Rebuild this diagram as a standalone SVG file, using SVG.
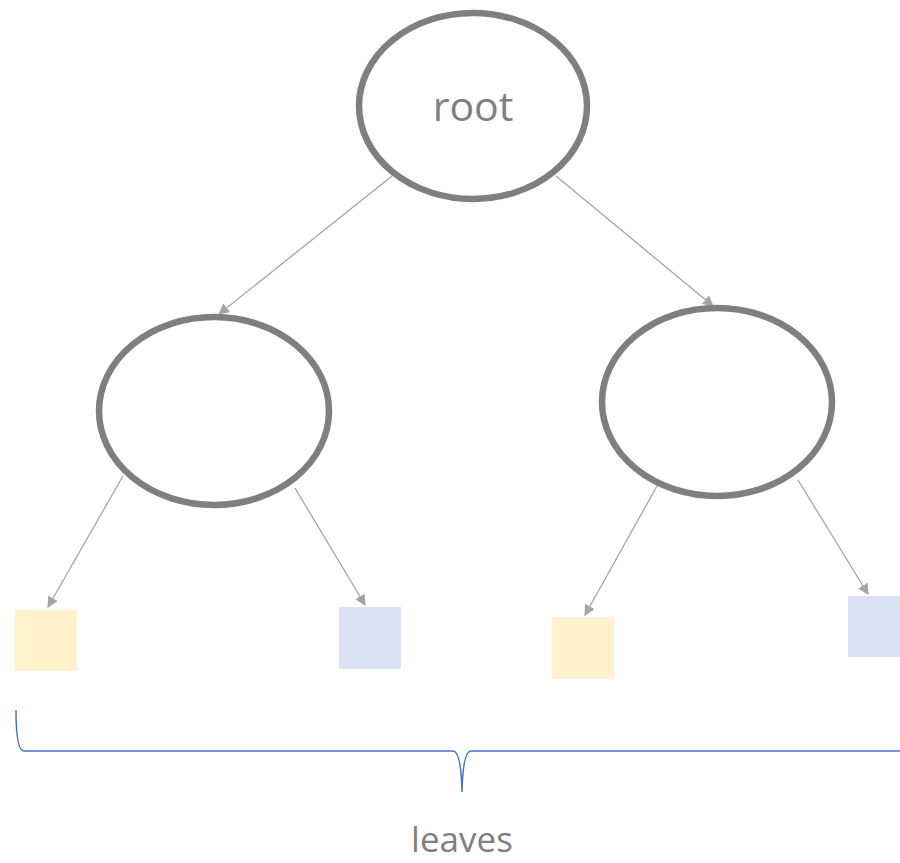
<svg xmlns="http://www.w3.org/2000/svg" width="900" height="863" viewBox="0 0 900 863">
  <style>
    .node { fill: #ffffff; stroke: #7f7f7f; stroke-width: 6.5; }
    .edge { stroke: #a5a5a5; stroke-width: 1.3; fill: none; marker-end: url(#arrow); }
    .leaf-a { fill: #fff2cc; }
    .leaf-b { fill: #dae3f3; }
    .label { font-family: "Open Sans", "Liberation Sans", sans-serif; fill: #7f7f7f; text-anchor: middle; }
    .brace { stroke: #4472c4; stroke-width: 1.5; fill: none; }
  </style>
  <defs>
    <marker id="arrow" viewBox="0 0 10 10" refX="9" refY="5" markerWidth="11" markerHeight="11" markerUnits="userSpaceOnUse" orient="auto">
      <path d="M0,0 L10,5 L0,10 z" fill="#a5a5a5"/>
    </marker>
  </defs>

  <!-- connectors -->
  <g id="edges">
    <line class="edge" x1="392" y1="176" x2="219" y2="314"/>
    <line class="edge" x1="556" y1="176" x2="713" y2="306"/>
    <line class="edge" x1="123" y1="476" x2="48" y2="607"/>
    <line class="edge" x1="295" y1="488" x2="365" y2="605"/>
    <line class="edge" x1="657" y1="486" x2="585" y2="615"/>
    <line class="edge" x1="798" y1="480" x2="868" y2="594"/>
  </g>

  <g id="root">
    <ellipse class="node" cx="473" cy="106" rx="114" ry="93"/>
    <text class="label" x="473" y="121" font-size="41">root</text>
  </g>
  <g id="left">
    <ellipse class="node" cx="214" cy="411" rx="115" ry="94"/>
  </g>
  <g id="right">
    <ellipse class="node" cx="717" cy="402" rx="115" ry="94"/>
  </g>

  <g id="leaf1"><rect class="leaf-a" x="15" y="610" width="62" height="61"/></g>
  <g id="leaf2"><rect class="leaf-b" x="339" y="607" width="62" height="62"/></g>
  <g id="leaf3"><rect class="leaf-a" x="552" y="617" width="62" height="62"/></g>
  <g id="leaf4"><rect class="leaf-b" x="848" y="596" width="52" height="61"/></g>

  <g id="leaves-brace">
    <path class="brace" d="M16,710 Q16,751 24,751 L453,751 Q461,751 462,792 Q463,751 471,751 L900,751"/>
    <text class="label" x="462" y="852" font-size="35">leaves</text>
  </g>
</svg>
